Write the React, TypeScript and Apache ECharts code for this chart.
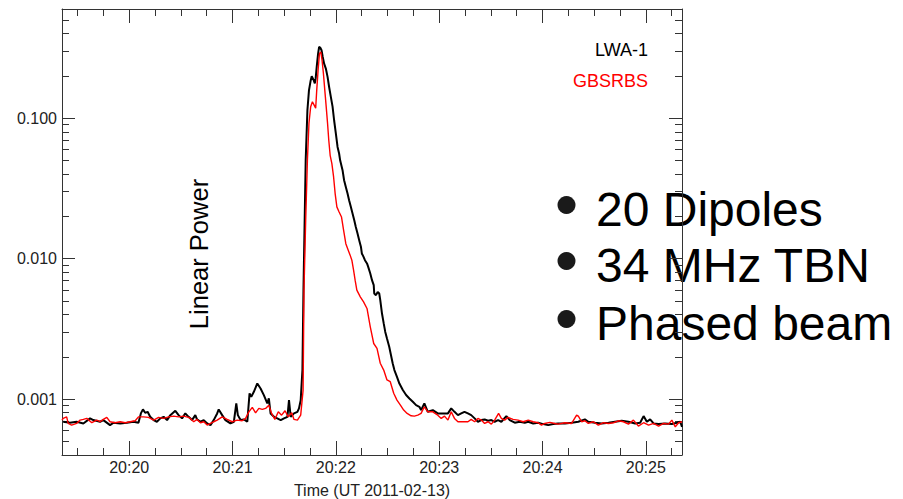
import React, { useEffect, useRef } from "react";
import * as echarts from "echarts";

// Time in seconds relative to 20:20:00 UT, power in linear units
const lwaTime = [
  -38.3, -34.4, -30.5, -26.6, -22.7, -20.8, -16.9, -15.0, -11.1, -9.1, -5.2, -1.3, 2.5, 5.4, 6.8, 8.0, 9.3, 10.7, 12.2, 14.2,
  16.1, 18.1, 20.0, 22.0, 23.9, 26.8, 28.7, 30.7, 32.6, 34.5, 36.5, 38.4, 39.4, 41.4, 43.3, 45.3, 47.2, 49.1, 51.1, 52.0,
  54.0, 55.9, 58.8, 60.8, 62.2, 63.1, 64.7, 66.6, 68.6, 69.9, 70.9, 72.4, 74.4, 76.3, 78.2, 80.2, 81.1, 82.1, 84.1, 86.0,
  88.0, 89.9, 91.9, 92.8, 93.8, 95.7, 97.7, 98.6, 99.6, 100.6, 101.2, 101.9, 102.5, 103.5, 104.4, 105.4, 106.0, 107.2, 107.8, 108.3,
  108.9, 109.7, 110.3, 110.9, 111.7, 112.4, 113.2, 114.2, 115.2, 116.1, 117.1, 118.1, 119.0, 120.0, 121.0, 121.9, 122.5, 123.9, 124.8, 125.8,
  126.8, 127.7, 128.7, 129.7, 130.7, 131.6, 132.6, 133.6, 134.6, 135.1, 136.1, 136.9, 138.1, 138.8, 140.0, 141.0, 142.0, 142.3, 143.3, 144.3,
  145.2, 145.8, 146.8, 147.8, 148.7, 149.7, 151.0, 152.0, 153.0, 154.0, 155.5, 156.9, 158.9, 160.8, 162.7, 164.7, 166.6, 168.5, 169.5, 171.4,
  173.4, 176.3, 179.2, 182.2, 185.1, 187.0, 188.9, 190.9, 192.8, 194.7, 196.7, 198.6, 200.6, 202.5, 204.5, 206.4, 208.4, 210.3, 212.2, 214.2,
  216.1, 219.0, 221.0, 223.9, 226.8, 229.7, 231.7, 234.6, 237.5, 240.4, 243.3, 246.2, 249.1, 253.0, 256.9, 260.8, 264.6, 266.6, 270.5, 274.4,
  278.3, 282.1, 286.0, 289.9, 293.8, 296.7, 298.7, 300.6, 302.5, 304.5, 307.4, 311.2, 315.1, 318.1, 320.0, 321.0,
];
const lwaPower = [
  6.9e-4, 6.79e-4, 6.9e-4, 6.71e-4, 7.29e-4, 7.09e-4, 6.9e-4, 7.09e-4, 6.53e-4, 6.79e-4, 6.71e-4, 6.79e-4, 6.9e-4, 6.79e-4, 7.91e-4, 8.45e-4, 7.99e-4, 8.12e-4, 7.48e-4, 7.09e-4,
  6.9e-4, 7.29e-4, 7.48e-4, 7.09e-4, 7.69e-4, 8.26e-4, 7.69e-4, 7.29e-4, 7.91e-4, 7.48e-4, 7.09e-4, 7.69e-4, 7.17e-4, 6.9e-4, 7.09e-4, 6.71e-4, 6.53e-4, 7.09e-4, 7.91e-4, 8.45e-4,
  7.69e-4, 7.09e-4, 6.71e-4, 6.9e-4, 9.32e-4, 7.69e-4, 7.09e-4, 7.17e-4, 6.9e-4, 1.098e-3, 1.038e-3, 1.127e-3, 1.293e-3, 1.191e-3, 1.068e-3, 9.32e-4, 1.012e-3, 7.91e-4, 7.48e-4, 7.29e-4,
  7.09e-4, 7.29e-4, 7.48e-4, 9.84e-4, 7.48e-4, 7.91e-4, 8.12e-4, 8.59e-4, 9.84e-4, 1.61e-3, 5.97e-3, 1.88e-2, 5.02e-2, 0.114, 0.158, 0.186, 0.199, 0.186, 0.177, 0.193,
  0.232, 0.289, 0.322, 0.319, 0.305, 0.273, 0.245, 0.226, 0.197, 0.167, 0.142, 0.121, 9.68e-2, 7.82e-2, 6.25e-2, 5.61e-2, 5.02e-2, 4.27e-2, 3.62e-2, 3.24e-2,
  2.91e-2, 2.61e-2, 2.34e-2, 2.1e-2, 1.88e-2, 1.68e-2, 1.51e-2, 1.35e-2, 1.21e-2, 1.09e-2, 1.03e-2, 9.75e-3, 9.25e-3, 8.74e-3, 7.85e-3, 7.03e-3, 6.48e-3, 5.65e-3, 5.5e-3, 5.8e-3,
  5.65e-3, 5.07e-3, 4.07e-3, 3.46e-3, 3.01e-3, 2.7e-3, 2.36e-3, 2.06e-3, 1.8e-3, 1.61e-3, 1.44e-3, 1.29e-3, 1.16e-3, 1.07e-3, 1.01e-3, 9.57e-4, 9.06e-4, 8.82e-4, 8.35e-4, 9.32e-4,
  8.12e-4, 8.35e-4, 7.91e-4, 7.91e-4, 7.91e-4, 8.59e-4, 8.12e-4, 7.69e-4, 7.91e-4, 8.12e-4, 7.91e-4, 7.69e-4, 7.29e-4, 6.9e-4, 7.09e-4, 7.17e-4, 7.01e-4, 7.09e-4, 6.9e-4, 7.09e-4,
  6.9e-4, 7.57e-4, 7.09e-4, 6.79e-4, 6.9e-4, 6.79e-4, 6.9e-4, 6.71e-4, 6.79e-4, 6.64e-4, 6.53e-4, 6.64e-4, 6.71e-4, 6.71e-4, 6.79e-4, 6.9e-4, 7.17e-4, 6.9e-4, 6.79e-4, 6.71e-4,
  6.79e-4, 6.9e-4, 7.01e-4, 6.9e-4, 6.71e-4, 6.79e-4, 7.57e-4, 6.9e-4, 7.17e-4, 6.71e-4, 6.64e-4, 6.71e-4, 6.64e-4, 6.79e-4, 6.9e-4, 6.35e-4,
];

const gbsTime = [
  -39.0, -38.3, -36.3, -35.4, -33.4, -30.5, -28.5, -26.6, -24.6, -21.7, -18.8, -16.9, -15.0, -13.0, -11.1, -8.2, -5.2, -2.3, 0.6, 3.5,
  5.4, 8.3, 11.2, 14.2, 17.1, 20.0, 22.9, 25.8, 28.7, 31.6, 34.5, 35.5, 37.5, 39.4, 41.4, 43.3, 45.3, 47.2, 49.1, 51.1,
  54.0, 56.9, 59.8, 62.7, 65.6, 67.6, 69.5, 71.5, 73.4, 75.3, 77.3, 79.2, 81.1, 82.7, 84.6, 86.6, 88.5, 90.5, 92.4, 94.4,
  95.7, 97.7, 99.6, 101.0, 101.5, 102.5, 103.5, 104.4, 105.4, 106.4, 107.4, 108.3, 108.9, 109.7, 110.5, 111.3, 112.0, 112.8, 113.6, 114.4,
  115.2, 115.9, 116.7, 117.7, 118.7, 119.6, 120.6, 121.9, 123.3, 124.5, 125.8, 127.2, 128.3, 129.3, 130.3, 131.2, 132.2, 134.2, 136.1, 138.1,
  140.0, 142.0, 143.9, 145.8, 147.8, 149.7, 151.6, 153.6, 155.5, 157.5, 159.4, 161.4, 163.7, 165.6, 167.6, 169.5, 171.4, 173.4, 176.3, 179.2,
  181.2, 183.1, 185.1, 187.0, 188.9, 190.9, 193.8, 196.7, 198.6, 200.6, 202.5, 204.5, 206.4, 208.4, 210.3, 212.2, 214.5, 216.1, 218.0, 220.0,
  222.9, 225.8, 228.8, 231.7, 234.6, 237.5, 239.4, 241.3, 244.3, 247.2, 249.1, 253.0, 256.9, 259.8, 260.8, 262.7, 264.6, 266.6, 269.5, 272.4,
  275.4, 278.3, 281.2, 284.1, 287.0, 289.9, 292.8, 295.7, 298.7, 301.6, 304.5, 307.4, 310.3, 313.2, 315.1, 317.1, 319.0, 321.0,
];
const gbsPower = [
  7.09e-4, 7.29e-4, 7.48e-4, 6.71e-4, 6.53e-4, 6.71e-4, 7.09e-4, 7.17e-4, 7.29e-4, 6.79e-4, 7.09e-4, 6.9e-4, 7.17e-4, 7.41e-4, 6.9e-4, 6.79e-4, 6.9e-4, 6.79e-4, 6.9e-4, 7.01e-4,
  7.48e-4, 7.48e-4, 7.41e-4, 7.09e-4, 7.41e-4, 7.29e-4, 7.48e-4, 7.57e-4, 7.48e-4, 7.57e-4, 7.41e-4, 7.29e-4, 6.9e-4, 7.17e-4, 6.79e-4, 6.9e-4, 6.53e-4, 6.71e-4, 6.9e-4, 7.09e-4,
  7.48e-4, 7.17e-4, 6.9e-4, 7.09e-4, 7.01e-4, 7.29e-4, 8.12e-4, 8.73e-4, 7.99e-4, 8.59e-4, 8.45e-4, 8.59e-4, 9.06e-4, 7.91e-4, 7.17e-4, 8.12e-4, 7.69e-4, 8.26e-4, 7.48e-4, 7.99e-4,
  7.17e-4, 7.09e-4, 7.69e-4, 1.16e-3, 5.97e-3, 1.88e-2, 5.02e-2, 9.21e-2, 0.121, 0.131, 0.124, 0.118, 0.158, 0.22, 0.289, 0.296, 0.259, 0.208, 0.158, 0.121,
  9.17e-2, 6.97e-2, 5.45e-2, 4.76e-2, 3.82e-2, 2.91e-2, 2.34e-2, 2.15e-2, 1.98e-2, 1.6e-2, 1.28e-2, 1.15e-2, 1.06e-2, 9.75e-3, 8.28e-3, 7.03e-3, 5.97e-3, 5.35e-3, 4.93e-3, 4.42e-3,
  3.27e-3, 2.49e-3, 2.3e-3, 1.8e-3, 1.61e-3, 1.37e-3, 1.33e-3, 1.1e-3, 9.84e-4, 9.06e-4, 8.35e-4, 7.91e-4, 7.61e-4, 7.57e-4, 7.69e-4, 7.91e-4, 8.82e-4, 8.12e-4, 8.12e-4, 7.69e-4,
  7.29e-4, 7.57e-4, 7.09e-4, 8.12e-4, 7.29e-4, 6.9e-4, 6.9e-4, 6.9e-4, 7.17e-4, 6.9e-4, 7.29e-4, 7.09e-4, 6.71e-4, 6.9e-4, 6.64e-4, 7.09e-4, 7.91e-4, 7.29e-4, 7.09e-4, 7.41e-4,
  7.17e-4, 7.09e-4, 6.9e-4, 7.09e-4, 6.9e-4, 6.79e-4, 6.53e-4, 6.71e-4, 6.83e-4, 6.71e-4, 6.64e-4, 6.79e-4, 6.71e-4, 7.69e-4, 7.57e-4, 6.9e-4, 7.01e-4, 6.71e-4, 6.9e-4, 6.53e-4,
  6.79e-4, 6.71e-4, 6.79e-4, 7.01e-4, 6.9e-4, 6.64e-4, 7.09e-4, 6.43e-4, 6.79e-4, 6.53e-4, 6.71e-4, 6.43e-4, 6.71e-4, 6.64e-4, 7.09e-4, 6.35e-4, 6.79e-4, 6.9e-4,
];

const seriesNames = ["LWA-1", "GBSRBS"];
const xMajorTicks = [0, 60, 120, 180, 240, 300];
const xMinorTicks = [-30, -15, 15, 30, 45, 75, 90, 105, 135, 150, 165, 195, 210, 225, 255, 270, 285, 315];
const yMajorTicks = [0.001, 0.01, 0.1];
const yMinorTicks = [
  0.0005, 0.0006, 0.0007, 0.0008, 0.0009,
  0.002, 0.003, 0.004, 0.005, 0.006, 0.007, 0.008, 0.009,
  0.02, 0.03, 0.04, 0.05, 0.06, 0.07, 0.08, 0.09,
  0.2, 0.3, 0.4, 0.5,
];
const xRange = [-39, 321];
const yRange = [0.0004, 0.6];
const xTitle = "Time (UT 2011-02-13)";
const yNote = "Linear Power";
const bullets = ["20 Dipoles", "34 MHz TBN", "Phased beam"];

export default function App() {
  const ref = useRef<HTMLDivElement>(null);
  useEffect(() => {
    const chart = echarts.init(ref.current!, null, { renderer: "svg" });
    const font = "Liberation Sans";
    const frame = "#333";
    const lg = (v: number) => Math.log10(v);
    const fmtTime = (v: number) => {
      const m = 20 + Math.round(v / 60);
      return "20:" + String(m).padStart(2, "0");
    };

    const xAxisBase = (position: string, ticks: number[], len: number, main: boolean, labels: boolean) => ({
      type: "value",
      position,
      min: xRange[0],
      max: xRange[1],
      splitLine: { show: false },
      axisLine: { show: main, onZero: false, lineStyle: { color: frame, width: 1 } },
      axisTick: { show: true, inside: true, length: len, customValues: ticks, lineStyle: { color: frame, width: 1 } },
      axisLabel: labels
        ? { show: true, customValues: xMajorTicks, formatter: fmtTime, margin: 4, fontFamily: font, fontSize: 16, color: "#222" }
        : { show: false },
      ...(labels
        ? {
            name: xTitle,
            nameLocation: "middle",
            nameGap: 27,
            nameTextStyle: { fontFamily: font, fontSize: 16, color: "#222" },
          }
        : {}),
    });

    const yAxisBase = (position: string, ticks: number[], len: number, main: boolean, labels: boolean) => ({
      type: "value",
      position,
      min: lg(yRange[0]),
      max: lg(yRange[1]),
      splitLine: { show: false },
      axisLine: { show: main, onZero: false, lineStyle: { color: frame, width: 1 } },
      axisTick: { show: true, inside: true, length: len, customValues: ticks.map(lg), lineStyle: { color: frame, width: 1 } },
      axisLabel: labels
        ? {
            show: true,
            customValues: yMajorTicks.map(lg),
            formatter: (v: number) => Math.pow(10, v).toFixed(3),
            margin: 5,
            fontFamily: font,
            fontSize: 16,
            color: "#222",
          }
        : { show: false },
    });

    const bulletBaselines = [226, 282, 340];
    const bulletFs = 48;
    const graphics: any[] = [
      {
        type: "text",
        x: 648,
        y: 49.5,
        style: { text: seriesNames[0], fill: "#000", font: `18px "${font}"`, align: "right", verticalAlign: "middle" },
      },
      {
        type: "text",
        x: 648,
        y: 81,
        style: { text: seriesNames[1], fill: "#ff0000", font: `18px "${font}"`, align: "right", verticalAlign: "middle" },
      },
      {
        type: "text",
        x: 199,
        y: 254,
        rotation: Math.PI / 2,
        style: { text: yNote, fill: "#000", font: `25.5px "${font}"`, align: "center", verticalAlign: "middle" },
      },
    ];
    bullets.forEach((b, i) => {
      const base = bulletBaselines[i];
      graphics.push({
        type: "circle",
        shape: { cx: 566.5, cy: base - 21, r: 9 },
        style: { fill: "#1a1a1a" },
      });
      graphics.push({
        type: "text",
        x: 596,
        y: base - 0.3465 * bulletFs,
        style: { text: b, fill: "#000", font: `${bulletFs}px "${font}"`, align: "left", verticalAlign: "middle" },
      });
    });

    chart.setOption({
      animation: false,
      grid: { left: 62, right: 221, top: 9, bottom: 44, containLabel: false, outerBoundsMode: "none" },
      xAxis: [
        xAxisBase("bottom", xMajorTicks, 14, true, true),
        xAxisBase("bottom", xMinorTicks, 7, false, false),
        xAxisBase("top", xMajorTicks, 14, true, false),
        xAxisBase("top", xMinorTicks, 7, false, false),
      ],
      yAxis: [
        yAxisBase("left", yMajorTicks, 13, true, true),
        yAxisBase("left", yMinorTicks, 7, false, false),
        yAxisBase("right", yMajorTicks, 13, true, false),
        yAxisBase("right", yMinorTicks, 7, false, false),
      ],
      series: [
        {
          name: seriesNames[0],
          type: "line",
          xAxisIndex: 0,
          yAxisIndex: 0,
          showSymbol: false,
          symbol: "none",
          lineStyle: { color: "#000", width: 2 },
          data: lwaTime.map((t, i) => [t, lg(lwaPower[i])]),
          z: 2,
        },
        {
          name: seriesNames[1],
          type: "line",
          xAxisIndex: 0,
          yAxisIndex: 0,
          showSymbol: false,
          symbol: "none",
          lineStyle: { color: "#ff0000", width: 1.4 },
          data: gbsTime.map((t, i) => [t, lg(gbsPower[i])]),
          z: 3,
        },
      ],
      graphic: graphics,
    });
    return () => chart.dispose();
  }, []);
  return <div ref={ref} style={{ position: "fixed", left: 0, top: 0, width: 903, height: 499, background: "#fff" }} />;
}
